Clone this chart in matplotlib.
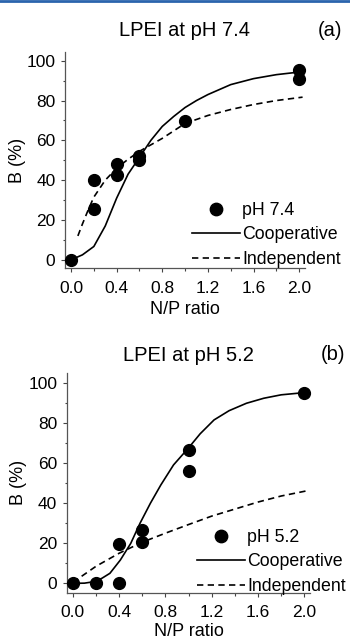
import matplotlib
matplotlib.use('Agg')
import matplotlib.pyplot as plt
from matplotlib.ticker import MultipleLocator
from matplotlib.lines import Line2D

plt.rcParams['font.family'] = ['Liberation Sans', 'DejaVu Sans']

# dane - pH 7.4
x_74 = [0.0, 0.2, 0.2, 0.4, 0.4, 0.6, 0.6, 1.0, 2.0, 2.0]
b_74 = [0.0, 40.0, 25.5, 48.0, 42.5, 52.0, 50.0, 69.5, 95.5, 91.0]
# krzywe
coop_x_74 = [0.0, 0.1, 0.2, 0.3, 0.4, 0.5, 0.6, 0.7, 0.8, 0.9, 1.0, 1.1, 1.2, 1.4, 1.6, 1.8, 2.03]
coop_y_74 = [0.0, 2.5, 6.7, 17.0, 31.0, 43.0, 51.5, 60.0, 67.0, 72.0, 76.5, 80.0, 83.0, 88.0, 91.0, 93.0, 94.5]
ind_x_74 = [0.06, 0.1, 0.15, 0.2, 0.3, 0.4, 0.5, 0.6, 0.8, 1.0, 1.2, 1.4, 1.6, 1.8, 2.03]
ind_y_74 = [12.0, 18.0, 25.0, 31.5, 40.0, 46.0, 50.5, 54.5, 61.0, 68.5, 72.5, 75.5, 78.0, 80.0, 81.7]

# dane - pH 5.2
x_52 = [0.0, 0.2, 0.4, 0.4, 0.6, 0.6, 1.0, 1.0, 2.0]
b_52 = [0.0, 0.0, 19.5, 0.0, 26.5, 20.5, 66.5, 56.0, 95.0]
coop_x_52 = [0.0, 0.1, 0.18, 0.25, 0.32, 0.41, 0.5, 0.58, 0.67, 0.76, 0.87, 1.0, 1.1, 1.22, 1.35, 1.5, 1.65, 1.8, 2.0]
coop_y_52 = [0.0, 0.1, 0.8, 2.5, 5.0, 11.6, 19.9, 29.9, 39.9, 49.0, 59.0, 67.5, 74.5, 81.4, 86.0, 89.7, 92.2, 93.9, 95.0]
ind_x_52 = [0.0, 0.2, 0.4, 0.6, 0.8, 1.0, 1.2, 1.4, 1.6, 1.8, 2.04]
ind_y_52 = [0.5, 8.5, 15.0, 20.5, 25.0, 29.3, 33.5, 37.0, 40.5, 43.5, 46.3]

fig = plt.figure(figsize=(3.5, 6.39), dpi=100)

# niebieska linia na gorze strony
fig.add_artist(Line2D([0, 1], [0.998, 0.998], transform=fig.transFigure, color='#2a64ad', lw=2.0))


def rysuj_panel(ax, x, b, cx, cy, ix, iy, tytul, litera, etykieta, ylim, pad_tytul, pad_x, poz_litery, poz_legendy):
    ax.plot(cx, cy, color='black', lw=1.2, label='Cooperative', zorder=2)
    ax.plot(ix, iy, color='black', lw=1.2, linestyle=(0, (3.8, 2.6)), label='Independent', zorder=2)
    ax.plot(x, b, 'o', color='black', markersize=8.5, label=etykieta, zorder=3, clip_on=False)

    ax.set_xlim(-0.052, 2.05)
    ax.set_ylim(*ylim)
    ax.xaxis.set_major_locator(MultipleLocator(0.4))
    ax.xaxis.set_minor_locator(MultipleLocator(0.2))
    ax.yaxis.set_major_locator(MultipleLocator(20))
    ax.yaxis.set_minor_locator(MultipleLocator(10))
    ax.set_xticks([0.0, 0.4, 0.8, 1.2, 1.6, 2.0])
    ax.set_xticklabels(['0.0', '0.4', '0.8', '1.2', '1.6', '2.0'])
    ax.tick_params(which='major', direction='out', length=3, width=0.8, labelsize=12.5, color='#444444')
    ax.tick_params(axis='x', which='major', pad=6)
    ax.tick_params(axis='y', which='major', pad=4)
    ax.tick_params(which='minor', direction='out', length=1.8, width=0.8, color='#444444')
    for s in ['top', 'right']:
        ax.spines[s].set_visible(False)
    for s in ['left', 'bottom']:
        ax.spines[s].set_color('#555555')
        ax.spines[s].set_linewidth(0.9)

    ax.set_xlabel('N/P ratio', fontsize=13, labelpad=pad_x)
    ax.set_ylabel('B (%)', fontsize=13, labelpad=0.5)
    ax.set_title(tytul, fontsize=14.5, pad=pad_tytul)
    ax.text(poz_litery[0], poz_litery[1], litera, transform=ax.transAxes, fontsize=14.5, ha='right', va='center')

    uchwyty, etykiety = ax.get_legend_handles_labels()
    kolejnosc = [2, 0, 1]
    ax.legend([uchwyty[i] for i in kolejnosc], [etykiety[i] for i in kolejnosc],
              loc='lower right', bbox_to_anchor=poz_legendy, frameon=False,
              fontsize=12.8, handlelength=2.7, handletextpad=0.12, labelspacing=0.42,
              borderpad=0.2, numpoints=1, markerscale=1.05)


ax1 = fig.add_axes([0.186, 0.580, 0.685, 0.339])
rysuj_panel(ax1, x_74, b_74, coop_x_74, coop_y_74, ind_x_74, ind_y_74,
            'LPEI at pH 7.4', '(a)', 'pH 7.4', (-4.3, 104.5), 11.5, 4, (1.155, 1.10), (1.202, -0.055))

ax2 = fig.add_axes([0.191, 0.072, 0.695, 0.345])
rysuj_panel(ax2, x_52, b_52, coop_x_52, coop_y_52, ind_x_52, ind_y_52,
            'LPEI at pH 5.2', '(b)', 'pH 5.2', (-4.8, 105), 8, 1.5, (1.145, 1.08), (1.197, -0.065))

fig.savefig('out.png', dpi=100)
